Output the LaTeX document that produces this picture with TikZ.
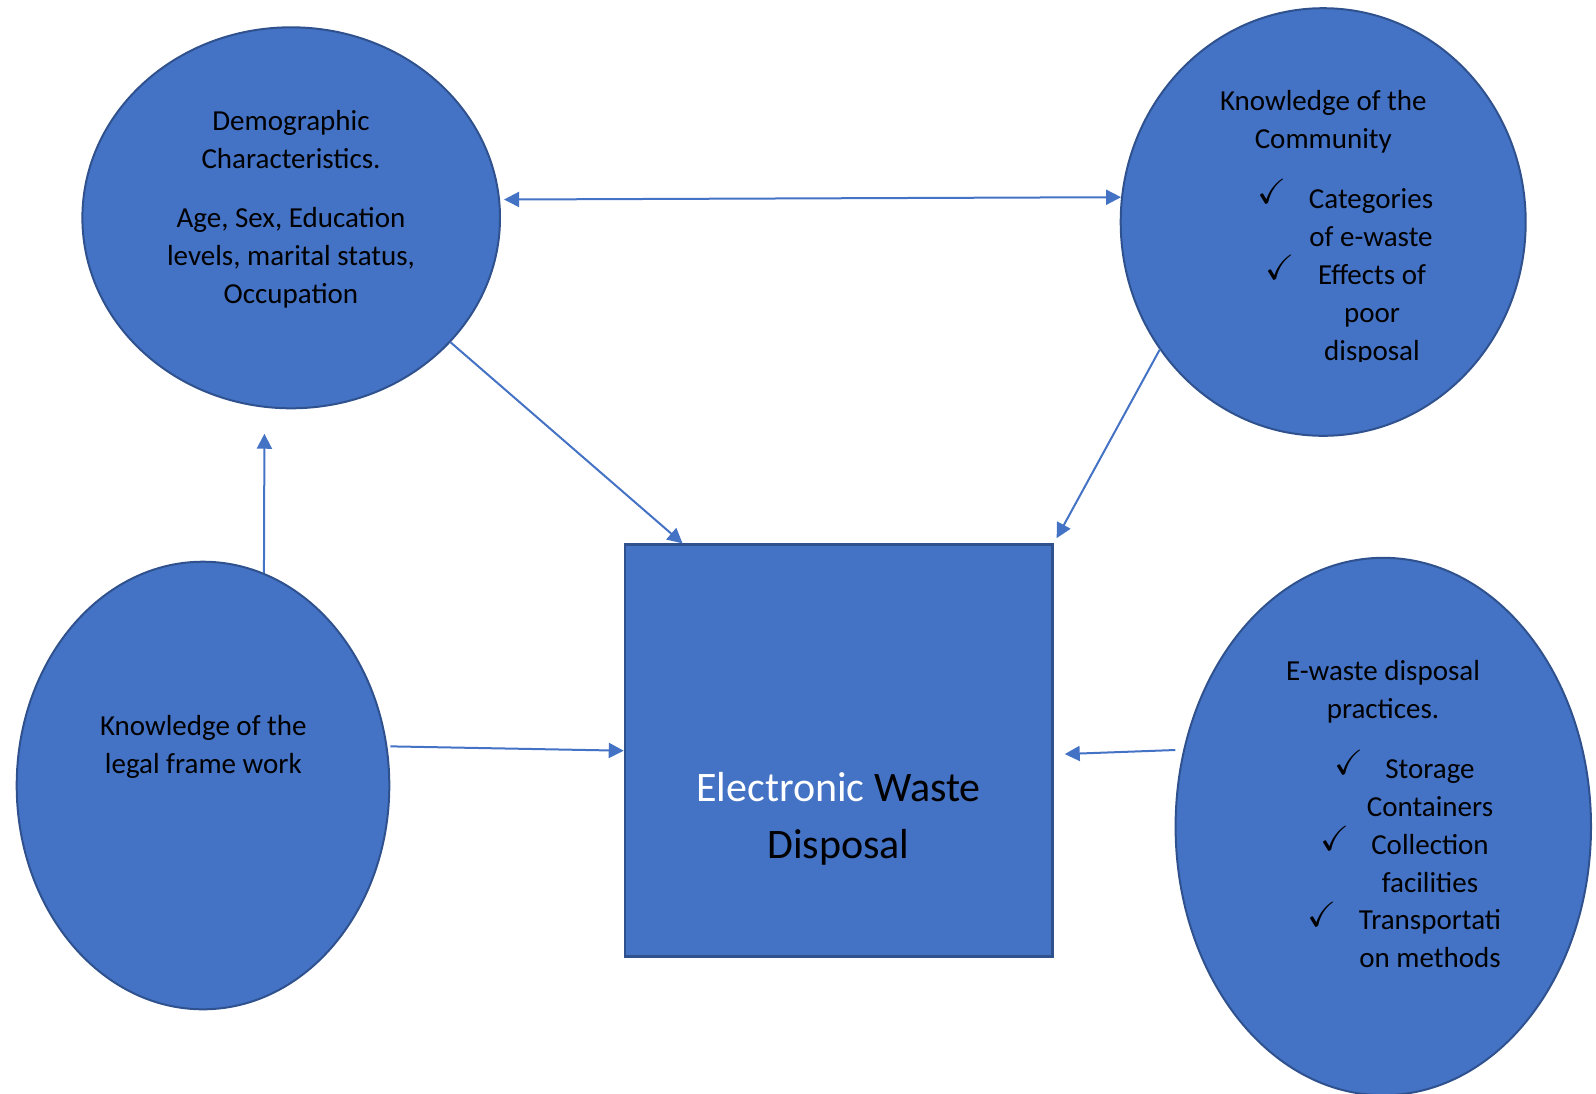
\documentclass[tikz,border=0pt]{standalone}
\usepackage{amssymb}
\usepackage{fontspec}
\setmainfont{Carlito}
\usetikzlibrary{shapes.geometric, arrows.meta}
\definecolor{bubblecolor}{HTML}{4472C4}
\definecolor{rimcolor}{HTML}{2F528F}

\begin{document}
\begin{tikzpicture}[
    x=1pt, y=-1pt,
    bubble/.style={draw=rimcolor, line width=2pt, ellipse, fill=bubblecolor, inner sep=0pt},
    box/.style={draw=rimcolor, line width=2.5pt, fill=bubblecolor, inner sep=0pt, minimum width=427.5pt, minimum height=412pt},
    bodytext/.style={font=\fontsize{29}{38}\selectfont, align=center, anchor=base, inner sep=0pt},
    tick/.style={font=\fontsize{35}{35}\selectfont, anchor=base, inner sep=0pt},
    arrow/.style={-{Triangle[length=15pt, width=15pt]}, line width=2pt, draw=bubblecolor}
]
    \useasboundingbox (0,0) rectangle (1596,1093);

    % Bubbles and box
    \node[bubble, minimum width=417.6pt, minimum height=381pt] (demo) at (291.2,217.8) {};
    \node[bubble, minimum width=405pt, minimum height=427.6pt] (comm) at (1323.2,222) {};
    \node[bubble, minimum width=372.6pt, minimum height=447.6pt] (legal) at (203,785.5) {};
    \node[bubble, minimum width=415.4pt, minimum height=537.4pt] (prac) at (1383.3,826.5) {};
    \node[box] (ewd) at (838.75,750.7) {};

    % Texts (anchored at the baseline of their last line)
    \node[bodytext] (demotext) at (291,303.5) {Demographic\\Characteristics.\\[21pt]Age, Sex, Education\\levels, marital status,\\Occupation};
    \node[bodytext] (commtitle) at (1323.3,148) {Knowledge of the\\Community};
    \begin{scope}
        \clip (1100,0) rectangle (1560,361.5);
        \node[bodytext] (categ) at (1371,246) {Categories\\of e-waste};
        \node[bodytext] (effects) at (1372,360) {Effects of\\poor\\disposal};
    \end{scope}
    \node[tick] (tick1) at (1272,203.3) {$\checkmark$};
    \node[tick] (tick2) at (1279.7,279.3) {$\checkmark$};

    \node[bodytext] (legaltext) at (203.3,773) {Knowledge of the\\legal frame work};

    \node[bodytext] (practitle) at (1383,718) {E-waste disposal\\practices.};
    \node[bodytext] (storage) at (1430,816.5) {Storage\\Containers};
    \node[bodytext] (collect) at (1430,892.5) {Collection\\facilities};
    \node[bodytext] (transport) at (1430,967.5) {Transportati\\on methods};
    \node[tick] (tick3) at (1349,774) {$\checkmark$};
    \node[tick] (tick4) at (1335.3,850) {$\checkmark$};
    \node[tick] (tick5) at (1321.7,926.7) {$\checkmark$};

    \node[bodytext, font=\fontsize{42}{57.3}\selectfont] (ewdtext) at (838.5,858.3) {{\color{white}Electronic} Waste\\Disposal};

    % Arrows
    \draw[arrow, {Triangle[length=15pt, width=15pt]}-{Triangle[length=15pt, width=15pt]}, shorten <=4pt] (demo.5.4) -- (comm.173.8);
    \draw[arrow] (demo.-38) -- (ewd.127.3);
    \draw[arrow, shorten >=6pt] (comm.218.4) -- (ewd.north east);
    \draw[arrow, shorten >=26pt] (legal.74.3) -- (demo.262);
    \draw[arrow, shorten <=3pt] (legal.12.2) -- (ewd.180.8);
    \draw[arrow, shorten <=8pt, shorten >=11pt] (prac.159) -- (ewd.-1);
\end{tikzpicture}
\end{document}
